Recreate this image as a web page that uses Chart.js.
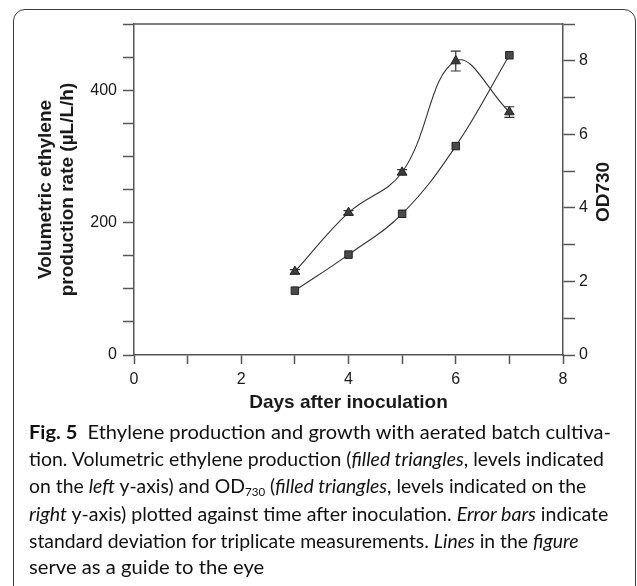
<!DOCTYPE html>
<html><head><meta charset="utf-8">
<script src="https://cdn.jsdelivr.net/npm/chart.js@4.4.1/dist/chart.umd.min.js"></script>
<style>
html,body{margin:0;padding:0;background:#fff;}
body{width:637px;height:586px;position:relative;overflow:hidden;}
#frame{position:absolute;left:13px;top:9px;width:623px;height:600px;border:1.5px solid #3a3a3a;border-radius:12px;box-sizing:border-box;}
#wrap{position:absolute;left:0;top:0;width:637px;height:420px;}
#cap{position:absolute;left:0;top:0;width:637px;height:586px;font-family:Lato,"Noto Sans",sans-serif;font-size:18.5px;color:#111;}
.ln{position:absolute;left:29px;white-space:nowrap;line-height:27px;height:27px;transform-origin:0 50%;}
.ln b{font-weight:700;}
.ln sub{font-size:11px;line-height:0;position:relative;top:3px;vertical-align:baseline;}
</style></head>
<body>
<div id="frame"></div>
<div id="wrap"><canvas id="c" width="637" height="420"></canvas></div>
<div id="cap">
<div class="ln" data-w="582" style="top:419px"><b>Fig. 5</b>&nbsp; Ethylene production and growth with aerated batch cultiva-</div>
<div class="ln" data-w="575" style="top:446px">tion. Volumetric ethylene production (<i>filled triangles</i>, levels indicated</div>
<div class="ln" data-w="557" style="top:473px">on the <i>left</i> y-axis) and OD<sub>730</sub> (<i>filled triangles</i>, levels indicated on the</div>
<div class="ln" data-w="579" style="top:501px"><i>right</i> y-axis) plotted against time after inoculation. <i>Error bars</i> indicate</div>
<div class="ln" data-w="550" style="top:528px">standard deviation for triplicate measurements. <i>Lines</i> in the <i>figure</i></div>
<div class="ln" data-w="235" style="top:554px">serve as a guide to the eye</div>
</div>
<script>
// ---- data ----
const days = [3, 4, 5, 6, 7];
const ethylene = [126, 215, 276, 444, 367];
const ethyleneErr = [3, 3, 4, 15, 8];
const od730 = [1.75, 2.73, 3.84, 5.68, 8.15];
const xLabelTicks = [0, 2, 4, 6, 8];
const leftLabelTicks = [0, 200, 400];
const rightLabelTicks = [0, 2, 4, 6, 8];
const leftTitle = ["Volumetric ethylene", "production rate (\u00b5L/L/h)"];
const rightTitle = "OD730";
const xTitle = "Days after inoculation";

const axisColor = '#555';
const textColor = '#1a1a1a';
const tickFont = {family: '"Liberation Sans", Arial, sans-serif', size: 16};
const titleFont = {family: '"Liberation Sans", Arial, sans-serif', size: 19, weight: 'bold', lineHeight: 1.2};

const errPlugin = {
  id: 'errbars',
  beforeDatasetsDraw(chart) {
    const {ctx} = chart, xs = chart.scales.x, ys = chart.scales.y;
    ctx.save();
    ctx.strokeStyle = '#333'; ctx.lineWidth = 1.2;
    days.forEach((d, i) => {
      const x = xs.getPixelForValue(d);
      const t = ys.getPixelForValue(ethylene[i] + ethyleneErr[i]);
      const b = ys.getPixelForValue(ethylene[i] - ethyleneErr[i]);
      ctx.beginPath();
      ctx.moveTo(x, t); ctx.lineTo(x, b);
      ctx.moveTo(x - 5, t); ctx.lineTo(x + 5, t);
      ctx.moveTo(x - 5, b); ctx.lineTo(x + 5, b);
      ctx.stroke();
    });
    ctx.restore();
  },
  afterDraw(chart) {
    const {ctx, chartArea: a} = chart;
    ctx.save();
    ctx.strokeStyle = axisColor; ctx.lineWidth = 1.5;
    ctx.beginPath(); ctx.moveTo(a.left, a.top); ctx.lineTo(a.right, a.top); ctx.stroke();
    ctx.fillStyle = textColor;
    ctx.font = 'bold 19px "Liberation Sans", Arial, sans-serif';
    ctx.translate(604, 192); ctx.rotate(-Math.PI / 2);
    ctx.textAlign = 'center'; ctx.textBaseline = 'middle';
    ctx.fillText(rightTitle, 0, 0);
    ctx.restore();
  }
};

const grid = (len) => ({display: true, drawOnChartArea: false, drawTicks: true, tickLength: len, tickWidth: 1.5, color: axisColor});
const border = {display: true, color: axisColor, width: 1.5};

new Chart(document.getElementById('c'), {
  type: 'line',
  data: {
    datasets: [
      {
        label: 'Ethylene',
        data: days.map((d, i) => ({x: d, y: ethylene[i]})),
        yAxisID: 'y',
        borderColor: '#333', borderWidth: 1.1, tension: 0.4,
        pointStyle: 'triangle', pointRadius: 5.5,
        pointBackgroundColor: '#3d3d3d', pointBorderColor: '#222', pointBorderWidth: 1
      },
      {
        label: 'OD730',
        data: days.map((d, i) => ({x: d, y: od730[i]})),
        yAxisID: 'y2',
        borderColor: '#333', borderWidth: 1.1, tension: 0.4,
        pointStyle: 'rect', pointRadius: 5.3,
        pointBackgroundColor: '#4a4a4a', pointBorderColor: '#222', pointBorderWidth: 1
      }
    ]
  },
  options: {
    responsive: false, animation: false, events: [],
    layout: {padding: {top: 24, left: 0, right: 0, bottom: 0}},
    plugins: {legend: {display: false}, tooltip: {enabled: false}},
    scales: {
      x: {
        type: 'linear', position: 'bottom', min: 0, max: 8,
        afterFit: s => { s.height = 65; },
        grid: grid(9), border,
        ticks: {stepSize: 1, padding: 6, color: textColor, font: tickFont, maxRotation: 0,
          callback: v => xLabelTicks.includes(v) ? String(v) : ''},
        title: {display: true, text: xTitle, color: textColor, font: titleFont, padding: {top: 0, bottom: 5.5}}
      },
      y: {
        type: 'linear', position: 'left', min: 0, max: 500,
        afterFit: s => { s.width = 134; },
        grid: grid(11), border,
        ticks: {stepSize: 50, padding: 6, color: textColor, font: tickFont,
          callback: v => leftLabelTicks.includes(v) ? String(v) : ''},
        title: {display: true, text: leftTitle, color: textColor, font: titleFont, padding: {top: 34, bottom: 0}}
      },
      y2: {
        type: 'linear', position: 'right', min: 0, max: 9,
        afterFit: s => { s.width = 74; },
        grid: grid(12), border,
        ticks: {stepSize: 1, padding: 4, color: textColor, font: tickFont,
          callback: v => rightLabelTicks.includes(v) ? String(v) : ''}
      }
    }
  },
  plugins: [errPlugin]
});

function fitCaption() {
  document.querySelectorAll('.ln').forEach(el => {
    el.style.transform = 'none';
    const w = el.scrollWidth;
    const t = parseFloat(el.dataset.w);
    el.style.transform = 'scaleX(' + (t / w) + ')';
  });
}
fitCaption();
if (document.fonts && document.fonts.ready) document.fonts.ready.then(fitCaption);
</script>
</body></html>
